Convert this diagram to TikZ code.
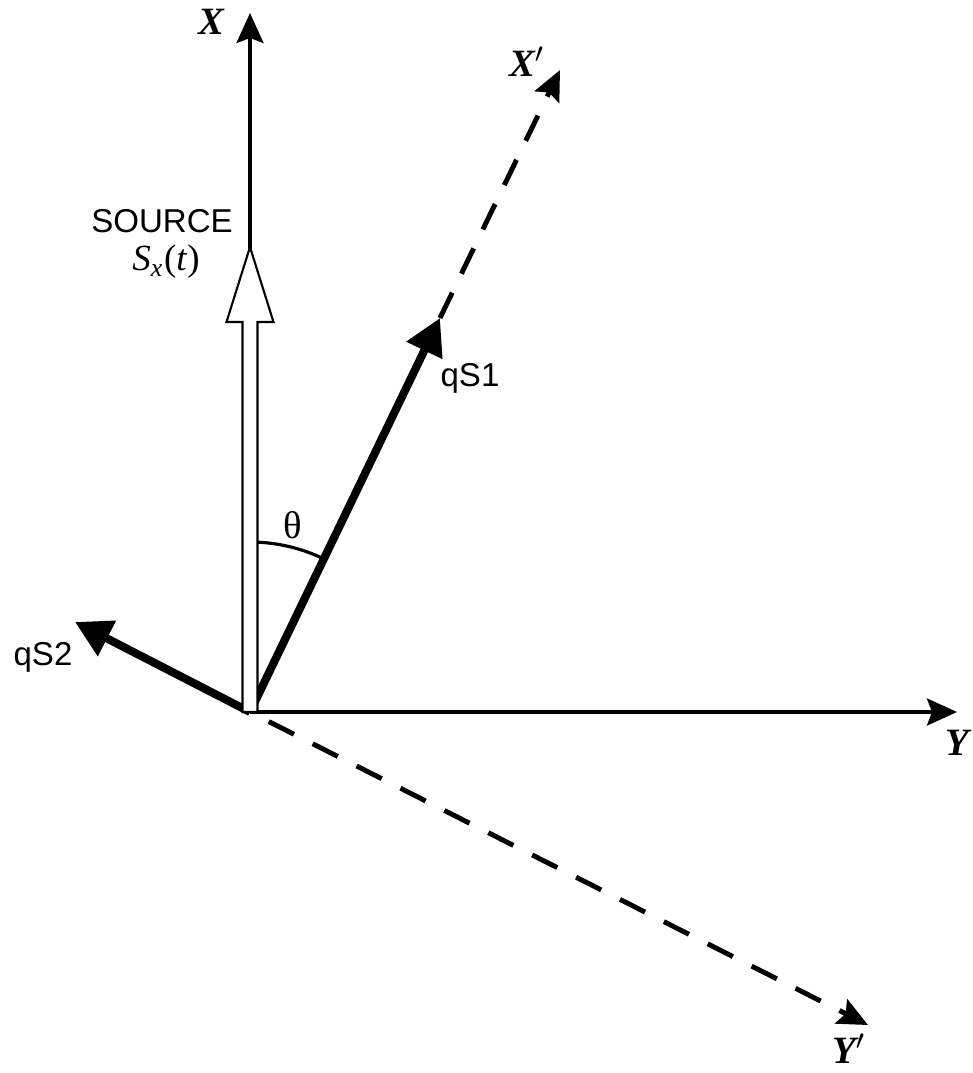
\documentclass[tikz,border=0pt]{standalone}
\usepackage{fontspec}
\setmainfont{Liberation Serif}
\setsansfont{Liberation Sans}
\usetikzlibrary{arrows.meta}

\begin{document}
\begin{tikzpicture}[
  axis/.style={-{Stealth[length=3mm, width=2.7mm, inset=0.5mm]}, line width=0.9pt},
  dashaxis/.style={axis, line width=1.4pt, dash pattern=on 8pt off 6pt},
  wave/.style={-{Triangle[length=3.6mm, width=3.8mm]}, line width=2.3pt},
  lbl/.style={font=\sffamily\fontsize{9.4}{11}\selectfont, inner sep=0pt},
  ax/.style={font=\bfseries\itshape\fontsize{11}{13}\selectfont, inner sep=0pt}
]
  \useasboundingbox (-2.50,-3.61) rectangle (7.22,7.12);
  \coordinate (o) at (0,0);
  \coordinate (xt) at (0,6.99);
  \coordinate (yt) at (7.07,0);
  \coordinate (q1) at (1.90,3.94);
  \coordinate (xpt) at (3.10,6.42);
  \coordinate (q2) at (-1.75,0.90);
  \coordinate (ypt) at (6.18,-3.13);

  \draw[axis] (o) -- (xt);
  \draw[axis] (o) -- (yt);
  \draw[dashaxis] (q1) -- (xpt);
  \draw[dashaxis, dash phase=8pt] (o) -- (ypt);
  \draw[line width=0.9pt] (90:1.70) arc[start angle=90, end angle=65, radius=1.70];
  \draw[wave] (o) -- (q1);
  \draw[wave] (o) -- (q2);
  % source
  \draw[line width=0.6pt, fill=white] (-0.075,0) -- (-0.075,3.90) -- (-0.235,3.90) -- (0,4.65)
    -- (0.235,3.90) -- (0.075,3.90) -- (0.075,0) -- cycle;

  \node[ax] (xl) at (-0.39,6.90) {X};
  \node[ax] (xpl) at (2.77,6.50) {X$'$};
  \node[ax] (yl) at (7.07,-0.31) {Y};
  \node[ax] (ypl) at (5.99,-3.37) {Y$'$};
  \node[lbl] (src) at (-0.88,4.91) {SOURCE};
  \node[font=\fontsize{10.5}{12}\selectfont, inner sep=0pt] (sx) at (-0.84,4.50) {\textit{S}\textsubscript{\textit{x}}(\textit{t})};
  \node[lbl] (q1l) at (2.20,3.34) {qS1};
  \node[lbl] (q2l) at (-2.07,0.55) {qS2};
  \node[font=\fontsize{11}{13}\selectfont, inner sep=0pt] (th) at (0.43,1.87) {θ};
\end{tikzpicture}
\end{document}
